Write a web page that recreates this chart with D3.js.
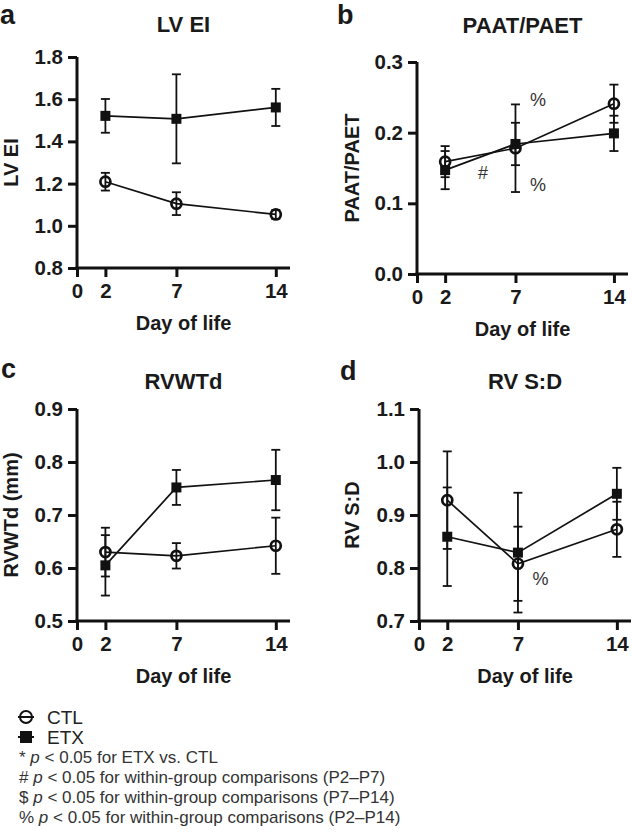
<!DOCTYPE html>
<html>
<head>
<meta charset="utf-8">
<script src="https://cdn.jsdelivr.net/npm/d3@7"></script>
<style>
  body { margin: 0; background: #fff; }
  svg { display: block; font-family: "Liberation Sans", Arial, Helvetica, sans-serif; }
</style>
</head>
<body>
<svg id="chart" width="632" height="836"></svg>
<script>
// data (mean, error half-width)
const days = [2, 7, 14];
const xTicks = [0, 2, 7, 14];

const lveiCtl = [1.209, 1.105, 1.054];
const lveiCtlErr = [0.042, 0.054, 0.021];
const lveiEtx = [1.521, 1.507, 1.561];
const lveiEtxErr = [0.080, 0.211, 0.088];

const paatCtl = [0.159, 0.178, 0.241];
const paatCtlErr = [0.022, 0.062, 0.027];
const paatEtx = [0.147, 0.184, 0.199];
const paatEtxErr = [0.027, 0.030, 0.025];

const rvwtCtl = [0.630, 0.623, 0.642];
const rvwtCtlErr = [0.046, 0.024, 0.053];
const rvwtEtx = [0.605, 0.752, 0.766];
const rvwtEtxErr = [0.057, 0.033, 0.057];

const rvsdCtl = [0.928, 0.808, 0.873];
const rvsdCtlErr = [0.092, 0.070, 0.052];
const rvsdEtx = [0.859, 0.829, 0.940];
const rvsdEtxErr = [0.093, 0.113, 0.049];

// significance marks: [day, value, symbol]
const paatMarks = [[8.6, 0.238, "%"], [8.6, 0.118, "%"], [4.7, 0.135, "#"]];
const rvsdMarks = [[8.6, 0.767, "%"]];

const footnotes = [
  ["* ", "p", " < 0.05 for ETX vs. CTL"],
  ["# ", "p", " < 0.05 for within-group comparisons (P2\u2013P7)"],
  ["$ ", "p", " < 0.05 for within-group comparisons (P7\u2013P14)"],
  ["% ", "p", " < 0.05 for within-group comparisons (P2\u2013P14)"]
];

const svg = d3.select("#chart");

const panels = [
  { letter: "a", title: "LV EI", ylab: "LV EI", box: [77, 290, 57, 268], yDom: [0.8, 1.8], yStep: 0.2,
    ctl: lveiCtl, ctlErr: lveiCtlErr, etx: lveiEtx, etxErr: lveiEtxErr, marks: [],
    letterPos: [0, 24], titleY: 32, ylabX: 18 },
  { letter: "b", title: "PAAT/PAET", ylab: "PAAT/PAET", box: [417, 628, 62, 274], yDom: [0, 0.3], yStep: 0.1,
    ctl: paatCtl, ctlErr: paatCtlErr, etx: paatEtx, etxErr: paatEtxErr, marks: paatMarks,
    letterPos: [337, 24], titleY: 33, ylabX: 359 },
  { letter: "c", title: "RVWTd", ylab: "RVWTd (mm)", box: [77, 290, 409, 621], yDom: [0.5, 0.9], yStep: 0.1,
    ctl: rvwtCtl, ctlErr: rvwtCtlErr, etx: rvwtEtx, etxErr: rvwtEtxErr, marks: [],
    letterPos: [1, 378], titleY: 389, ylabX: 18 },
  { letter: "d", title: "RV S:D", ylab: "RV S:D", box: [419, 631, 409, 621], yDom: [0.7, 1.1], yStep: 0.1,
    ctl: rvsdCtl, ctlErr: rvsdCtlErr, etx: rvsdEtx, etxErr: rvsdEtxErr, marks: rvsdMarks,
    letterPos: [340, 380], titleY: 389, ylabX: 359 }
];

panels.forEach(p => {
  const [x0, x1, yTop, yBot] = p.box;
  const x = d3.scaleLinear().domain([0, 15]).range([x0, x1]);
  const y = d3.scaleLinear().domain(p.yDom).range([yBot, yTop]);
  const g = svg.append("g");

  g.append("text").attr("x", p.letterPos[0]).attr("y", p.letterPos[1])
    .attr("font-size", 27).attr("font-weight", "bold").attr("fill", "#1a1a1a").text(p.letter);
  g.append("text").attr("x", (x0 + x1) / 2).attr("y", p.titleY).attr("text-anchor", "middle")
    .attr("font-size", 22).attr("font-weight", "bold").attr("fill", "#1a1a1a").text(p.title);

  const yTicks = d3.range(p.yDom[0], p.yDom[1] + p.yStep / 2, p.yStep);
  const yAxis = g.append("g").attr("transform", `translate(${x0},0)`)
    .call(d3.axisLeft(y).tickValues(yTicks).tickFormat(d3.format(".1f")).tickSizeOuter(0).tickSize(9).tickPadding(5));
  const xAxis = g.append("g").attr("transform", `translate(0,${yBot})`)
    .call(d3.axisBottom(x).tickValues(xTicks).tickSizeOuter(0).tickSize(9).tickPadding(6));
  [yAxis, xAxis].forEach(a => {
    a.selectAll("path.domain").attr("stroke", "#111").attr("stroke-width", 3);
    a.selectAll(".tick line").attr("stroke", "#111").attr("stroke-width", 3);
    a.selectAll(".tick text").attr("font-size", 20.5).attr("font-weight", "bold")
      .attr("fill", "#1a1a1a").attr("font-family", "Liberation Sans, Arial, sans-serif");
  });
  yAxis.select("path.domain").attr("d", `M0,${yTop}V${yBot + 1.5}`);
  xAxis.select("path.domain").attr("d", `M${x0 - 1.5},0H${x1}`);

  g.append("text").attr("transform", `translate(${p.ylabX},${(yTop + yBot) / 2}) rotate(-90)`)
    .attr("text-anchor", "middle").attr("font-size", 20).attr("font-weight", "bold").attr("fill", "#1a1a1a")
    .text(p.ylab);
  g.append("text").attr("x", (x0 + x1) / 2).attr("y", yBot + 62).attr("text-anchor", "middle")
    .attr("font-size", 20).attr("font-weight", "bold").attr("fill", "#1a1a1a").text("Day of life");

  const line = d3.line().x((d, i) => x(days[i])).y(d => y(d));
  [p.ctl, p.etx].forEach(s => {
    g.append("path").datum(s).attr("d", line).attr("fill", "none").attr("stroke", "#111").attr("stroke-width", 1.7);
  });

  [[p.ctl, p.ctlErr], [p.etx, p.etxErr]].forEach(([m, e]) => {
    const eb = g.append("g").attr("stroke", "#111").attr("stroke-width", 1.8);
    m.forEach((v, i) => {
      const cx = x(days[i]), lo = y(v - e[i]), hi = y(v + e[i]);
      eb.append("line").attr("x1", cx).attr("x2", cx).attr("y1", lo).attr("y2", hi);
      eb.append("line").attr("x1", cx - 4.5).attr("x2", cx + 4.5).attr("y1", lo).attr("y2", lo);
      eb.append("line").attr("x1", cx - 4.5).attr("x2", cx + 4.5).attr("y1", hi).attr("y2", hi);
    });
  });

  g.selectAll("rect.etx").data(p.etx).join("rect").attr("class", "etx")
    .attr("x", (d, i) => x(days[i]) - 5).attr("y", d => y(d) - 5)
    .attr("width", 10).attr("height", 10).attr("fill", "#111");
  g.selectAll("circle.ctl").data(p.ctl).join("circle").attr("class", "ctl")
    .attr("cx", (d, i) => x(days[i])).attr("cy", d => y(d)).attr("r", 5)
    .attr("fill", "none").attr("stroke", "#111").attr("stroke-width", 2.7);

  g.selectAll("text.mark").data(p.marks).join("text").attr("class", "mark")
    .attr("x", d => x(d[0])).attr("y", d => y(d[1])).attr("text-anchor", "middle")
    .attr("font-size", 18).attr("fill", "#333").text(d => d[2]);
});

// legend
const leg = svg.append("g");
const legRows = [["CTL", "circle"], ["ETX", "square"]];
legRows.forEach((r, i) => {
  const cy = 717 + i * 20;
  leg.append("line").attr("x1", 18).attr("x2", 34).attr("y1", cy).attr("y2", cy)
    .attr("stroke", "#111").attr("stroke-width", 2);
  if (r[1] === "circle") {
    leg.append("circle").attr("cx", 26).attr("cy", cy).attr("r", 6)
      .attr("fill", "none").attr("stroke", "#111").attr("stroke-width", 2);
  } else {
    leg.append("rect").attr("x", 20).attr("y", cy - 6).attr("width", 12).attr("height", 12).attr("fill", "#111");
  }
  leg.append("text").attr("x", 47).attr("y", cy + 7).attr("font-size", 19).attr("fill", "#222").text(r[0]);
});

footnotes.forEach((f, i) => {
  const t = svg.append("text").attr("x", 19).attr("y", 763 + i * 20).attr("font-size", 17).attr("fill", "#333");
  t.append("tspan").text(f[0]);
  t.append("tspan").attr("font-style", "italic").text(f[1]);
  t.append("tspan").text(f[2]);
});
</script>
</body>
</html>
